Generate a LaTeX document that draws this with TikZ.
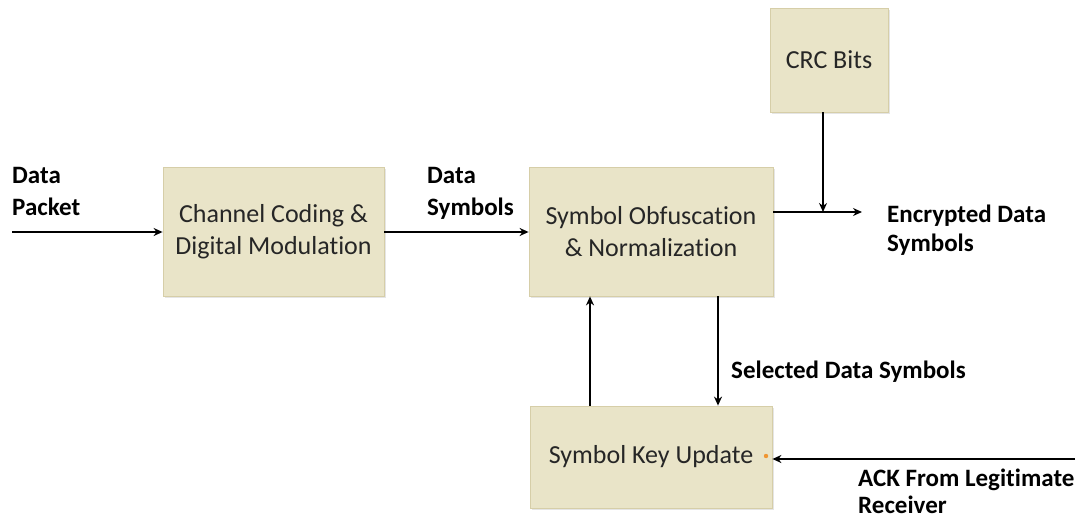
\documentclass[tikz,border=0pt]{standalone}
\usepackage{fontspec}
\setmainfont[Ligatures={NoCommon}]{Carlito}
\usetikzlibrary{arrows.meta,shadows}
\definecolor{boxfill}{RGB}{233,228,200}
\definecolor{boxline}{RGB}{214,206,168}
\definecolor{dotorange}{RGB}{240,150,50}
\tikzset{
  blk/.style={draw=boxline, line width=0.8pt, fill=boxfill, align=center,
    font=\fontsize{26}{32}\selectfont, text=black!85,
    drop shadow={shadow xshift=2pt, shadow yshift=-2pt, opacity=0.25, fill=black!40}},
  arr/.style={line width=2pt, -{Stealth[length=9pt,width=8pt]}},
  lbl/.style={font=\bfseries\fontsize{25}{32}\selectfont, align=left, anchor=base west, inner sep=0pt}
}
\begin{document}
\begin{tikzpicture}[x=1pt,y=-1pt]
\useasboundingbox (0,0) rectangle (1081,519);
\fill[white] (0,0) rectangle (1081,519);
% boxes
\node[blk, minimum width=221pt, minimum height=129pt] (cc) at (273.5,231.5) {Channel Coding \&\\Digital Modulation};
\node[blk, minimum width=244pt, minimum height=129pt] (so) at (651,231.5) {Symbol Obfuscation\\\& Normalization};
\node[blk, minimum width=118pt, minimum height=104pt] (crc) at (829,60) {CRC Bits};
\node[blk, minimum width=242pt, minimum height=102pt] (ku) at (651,457) {Symbol Key Update};
% coordinates
\coordinate (inS) at (12,232);
\coordinate (outE) at (862,212);
\coordinate (ackS) at (1075,459);
\coordinate (mrg) at (823,212);
% arrows
\draw[arr] (inS) -- (cc.west |- inS);
\draw[arr] (cc.east |- inS) -- (so.west |- inS);
\draw[arr] (so.east |- outE) -- (outE);
\draw[arr] (crc.south -| mrg) -- (mrg);
\draw[arr] (so.south -| 718,0) -- (ku.north -| 718,0);
\draw[arr] (ku.north -| 590,0) -- (so.south -| 590,0);
\draw[arr] (ackS) -- (ku.east |- ackS);
\fill[dotorange] (766,456) circle (2.2pt);
% labels
\node[lbl] (l1) at (12,215) {Data\\Packet};
\node[lbl] (l2) at (427,215) {Data\\Symbols};
\node[lbl, font=\bfseries\fontsize{25}{29}\selectfont] (l3) at (887,251) {Encrypted Data\\Symbols};
\node[lbl] (l4) at (731,378) {Selected Data Symbols};
\node[lbl, font=\bfseries\fontsize{25}{27}\selectfont] (l5) at (858,513) {ACK From Legitimate\\Receiver};
\end{tikzpicture}
\end{document}
